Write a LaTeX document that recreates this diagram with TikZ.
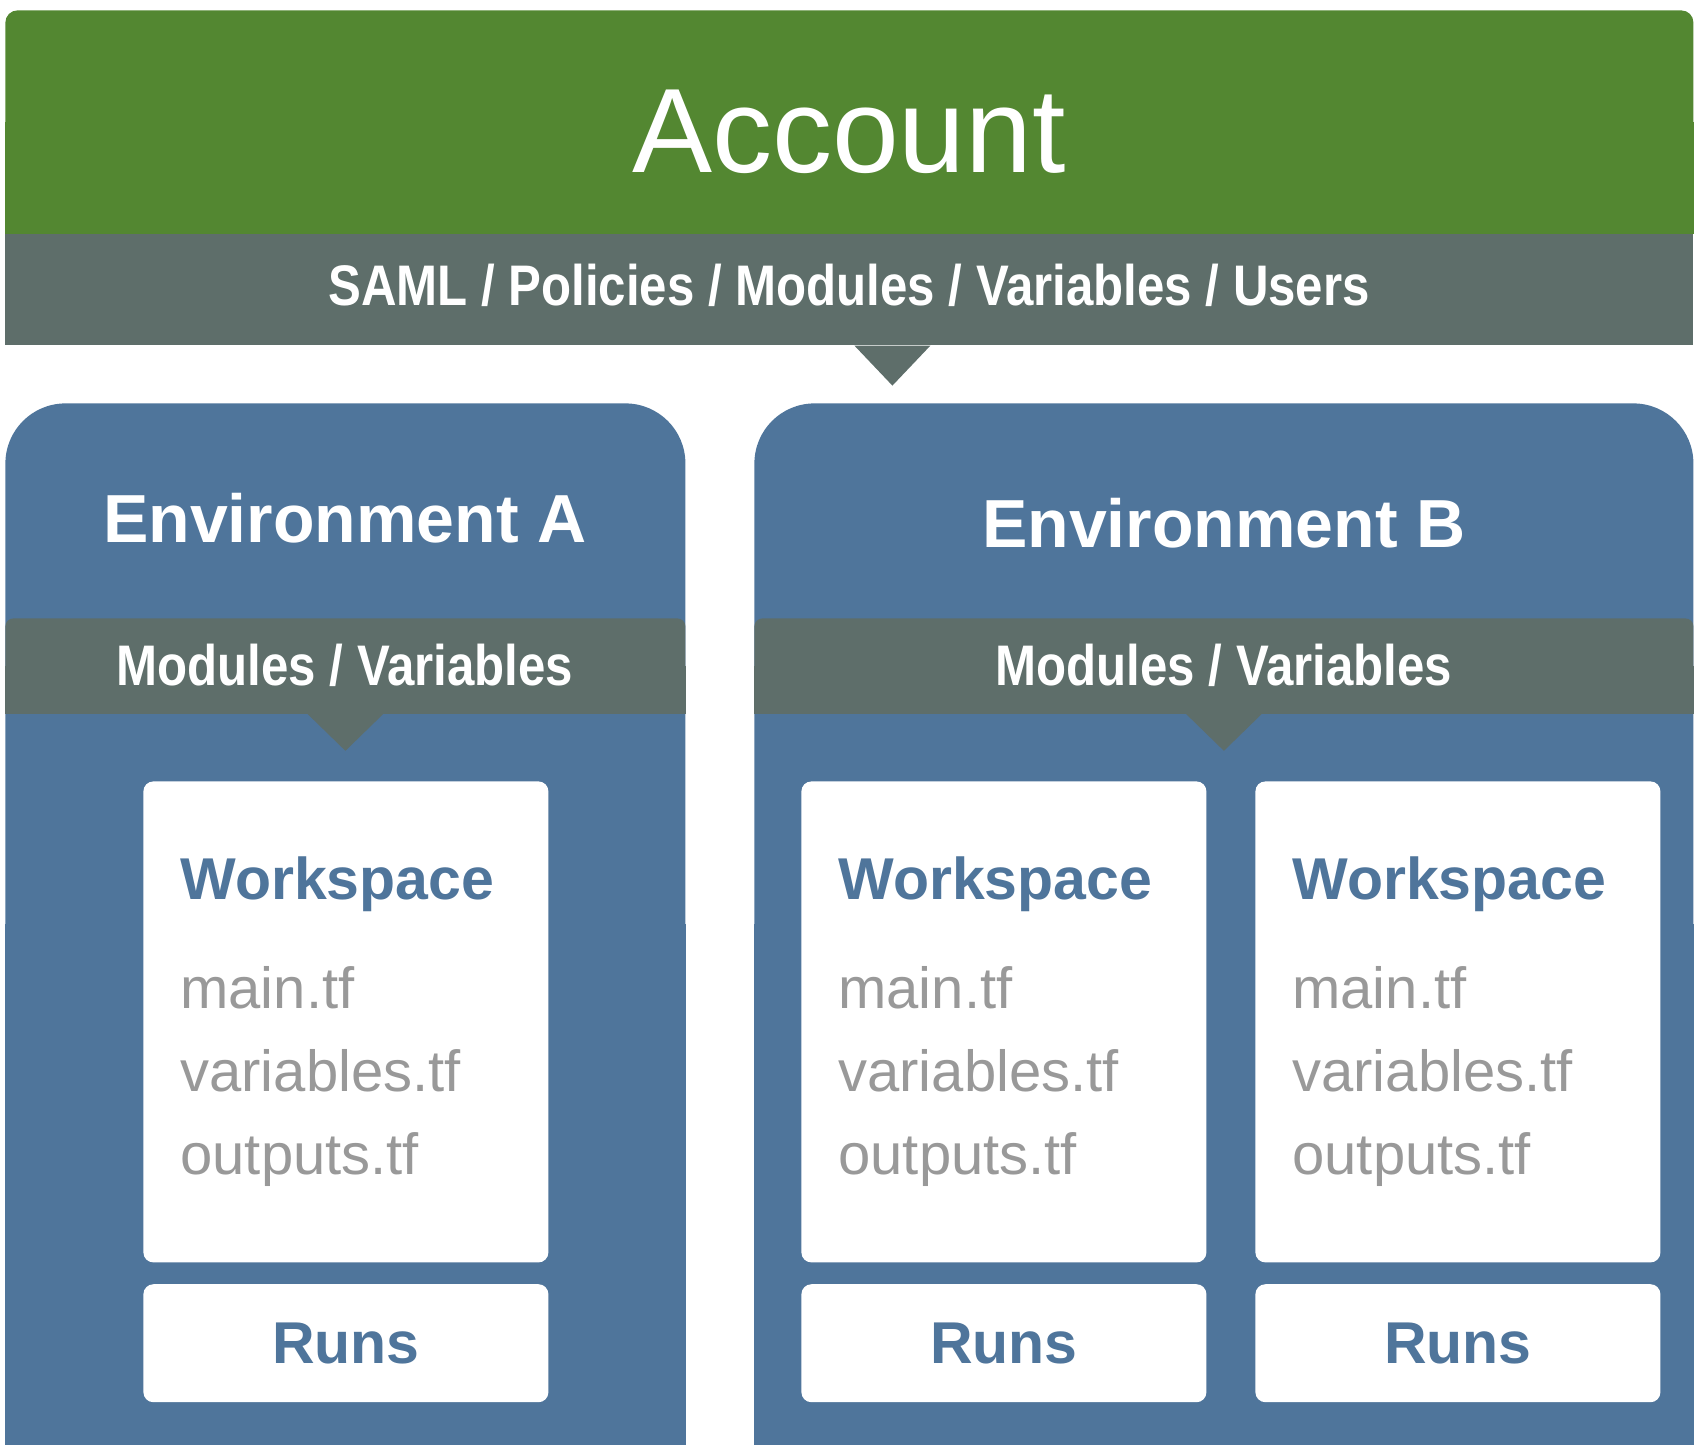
\documentclass[tikz,border=0pt]{standalone}
\usepackage{fontspec}
\setmainfont{Liberation Sans}
\newfontfamily\condfont{Liberation Sans}[FakeStretch=0.86]
\usetikzlibrary{positioning, calc}
\definecolor{acctgreen}{HTML}{538731}
\definecolor{bandgray}{HTML}{5E6E6A}
\definecolor{envblue}{HTML}{4F759B}
\definecolor{filegray}{HTML}{999999}
\tikzset{
  acct/.style={rectangle, rounded corners=6pt, fill=acctgreen, inner sep=0pt, minimum width=844pt, minimum height=111.5pt},
  band/.style={rectangle, rounded corners=4pt, fill=bandgray, inner sep=0pt, minimum height=47.5pt},
  env/.style={rectangle, rounded corners=30pt, fill=envblue, inner sep=0pt, minimum height=520.5pt},
  card/.style={rectangle, rounded corners=5pt, fill=white, inner sep=0pt, minimum width=202.5pt},
  bigtitle/.style={text=white, font=\fontsize{60}{60}\selectfont, anchor=base, inner sep=0pt},
  envtitle/.style={text=white, font=\bfseries\fontsize{34}{34}\selectfont, anchor=base, inner sep=0pt},
  bandtext/.style={text=white, font=\condfont\bfseries\fontsize{28.6}{28.6}\selectfont, anchor=base, inner sep=0pt},
  wstitle/.style={text=envblue, font=\bfseries\fontsize{29.5}{29.5}\selectfont, anchor=base west, inner sep=0pt},
  filename/.style={text=filegray, font=\fontsize{29}{29}\selectfont, anchor=base west, inner sep=0pt},
  runsbox/.style={card, minimum height=59pt, text=envblue, font=\bfseries\fontsize{29.5}{29.5}\selectfont},
}
\begin{document}
\begin{tikzpicture}[x=0.5pt, y=-0.5pt]
  \useasboundingbox (0,0) rectangle (1706,1452);
  % account
  \node[acct, anchor=north west] (acct) at (5,10) {};
  \fill[acctgreen] (acct.west) rectangle (acct.south east);
  \node[bigtitle] (accttxt) at (849,172) {Account};
  \node[band, rounded corners=0pt, minimum width=844pt, minimum height=55.5pt, anchor=north west] (acctband) at (acct.south west) {};
  \fill[bandgray] ($(acctband.south)+(5,0)$) -- ($(acctband.south)+(43,40)$) -- ($(acctband.south)+(81,0)$) -- cycle;
  \node[bandtext] (accttags) at (849,305) {SAML / Policies / Modules / Variables / Users};

  % environment A
  \node[env, minimum width=340pt, anchor=north west] (envA) at (5,403) {};
  \fill[envblue] (envA.west) rectangle (envA.south east);
  \node[envtitle] (envAtxt) at (345,542) {Environment A};
  \node[band, minimum width=340pt, anchor=north west] (bandA) at (5,618) {};
  \fill[bandgray] (bandA.west) rectangle (bandA.south east);
  \fill[bandgray] ($(bandA.south)+(-38,0)$) -- ($(bandA.south)+(0,37)$) -- ($(bandA.south)+(38,0)$) -- cycle;
  \node[bandtext] (bandAtxt) at (345,685) {Modules / Variables};

  % environment B
  \node[env, minimum width=469.5pt, anchor=north west] (envB) at (754,403) {};
  \fill[envblue] (envB.west) rectangle (envB.south east);
  \node[envtitle] (envBtxt) at (1224,547) {Environment B};
  \node[band, minimum width=469.5pt, anchor=north west] (bandB) at (754,618) {};
  \fill[bandgray] (bandB.west) rectangle (bandB.south east);
  \fill[bandgray] ($(bandB.south)+(-38,0)$) -- ($(bandB.south)+(0,37)$) -- ($(bandB.south)+(38,0)$) -- cycle;
  \node[bandtext] (bandBtxt) at (1224,685) {Modules / Variables};

  % workspaces
  \foreach \ws/\x in {wsA/143, wsBa/801, wsBb/1255} {
    \node[card, minimum height=240.5pt, anchor=north west] (\ws) at (\x,781) {};
    \node[runsbox, below=10.5pt of \ws] (\ws-runs) {Runs};
    \node[wstitle] (\ws-title) at ($(\ws.north west)+(37,118)$) {Workspace};
    \foreach \f [count=\i] in {main.tf, variables.tf, outputs.tf}
      \node[filename] (\ws-f\i) at ($(\ws.north west)+(37,144+83*\i)$) {\f};
  }
\end{tikzpicture}
\end{document}
